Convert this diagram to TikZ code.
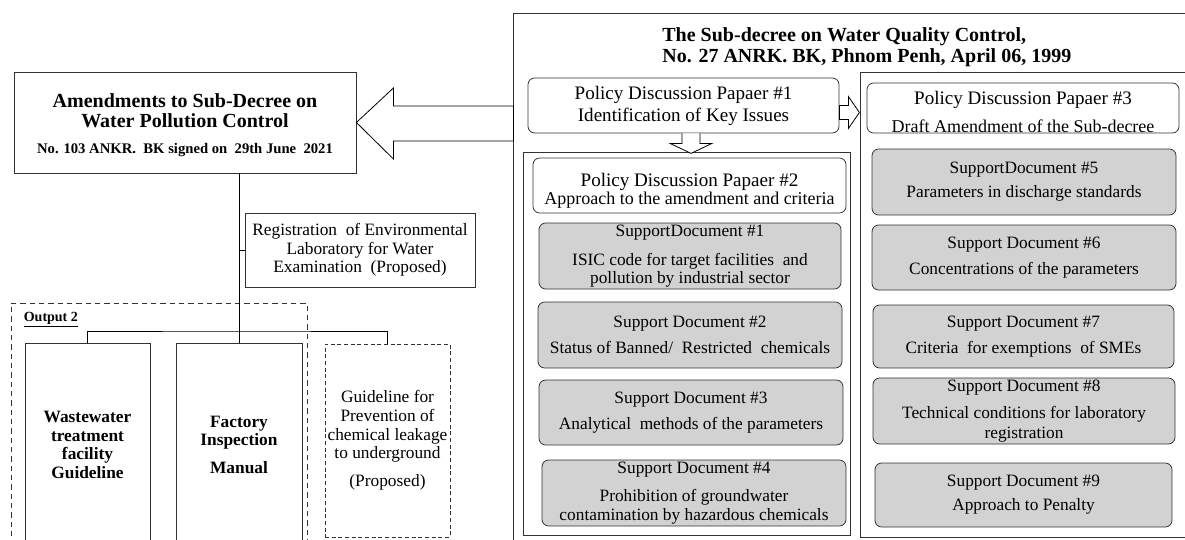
\documentclass[tikz,border=0pt]{standalone}
\usepackage{fontspec}
\setmainfont{Liberation Serif}
\usetikzlibrary{fit}
\tikzset{
  panel/.style={draw=black!80, inner sep=0pt},
  pdp/.style={panel, rounded corners=5pt, fill=white},
  sd/.style={panel, rounded corners=5pt, fill=gray!35},
  txt/.style={align=center, inner sep=0pt, font=\fontsize{13}{14}\selectfont},
  pdptxt/.style={txt, font=\fontsize{14.3}{15.5}\selectfont},
  boldtxt/.style={txt, font=\fontsize{13}{14}\selectfont\bfseries},
}
\def\body{\fontsize{13.5}{14}\selectfont}

\begin{document}
\begin{tikzpicture}[x=0.75pt,y=-0.75pt,line width=0.6pt]
\useasboundingbox (0,0) rectangle (1185,539);
% sub-decree side
\node[panel, fit={(513,13) (1200,550)}] (decree) {};
\node[anchor=west, align=left, inner sep=0pt, font=\fontsize{15}{16}\selectfont\bfseries] (title) at (662,47)
  {The Sub-decree on Water Quality Control,\\ No. 27 ANRK. BK, Phnom Penh, April 06, 1999};
\node[panel, fit={(523,152) (850,535)}] (left) {};
\node[panel, fit={(860,72) (1200,537)}] (right) {};
\node[pdp, fit={(528,78) (839,133)}, label={[pdptxt]center:{Policy Discussion Papaer \#1\\[1pt] Identification of Key Issues}}] (pdp1) {};
\node[pdp, fit={(533,158) (846,213)}, label={[pdptxt,yshift=-4pt]center:{Policy Discussion Papaer \#2\\[-2pt] {\body Approach to the amendment and criteria}}}] (pdp2) {};
\node[sd, fit={(539,223) (841,289)}, label={[txt]center:{SupportDocument \#1\\[8pt] ISIC code for target facilities\enspace and\\[-1pt] pollution by industrial sector}}] (sd1) {};
\node[sd, fit={(538,302) (842,368)}, label={[txt]center:{Support Document \#2\\[6pt] Status of Banned/\enspace Restricted\enspace chemicals}}] (sd2) {};
\node[sd, fit={(539,380) (843,445)}, label={[txt]center:{Support Document \#3\\[6pt] Analytical\enspace methods of the parameters}}] (sd3) {};
\node[sd, fit={(542,460) (846,526)}, label={[txt]center:{Support Document \#4\\[7pt] Prohibition of groundwater\\ contamination by hazardous chemicals}}] (sd4) {};
\node[pdp, fit={(867,83) (1179,133)}, label={[pdptxt,yshift=-3pt]center:{Policy Discussion Papaer \#3\\[5pt] {\body Draft Amendment of the Sub-decree}}}] (pdp3) {};
\node[sd, fit={(872,149) (1176,215)}, label={[txt]center:{SupportDocument \#5\\[4pt] Parameters in discharge standards}}] (sd5) {};
\node[sd, fit={(872,225) (1176,290)}, label={[txt]center:{Support Document \#6\\[5pt] Concentrations of the parameters}}] (sd6) {};
\node[sd, fit={(873,305) (1174,368)}, label={[txt]center:{Support Document \#7\\[5pt] Criteria\enspace for exemptions\enspace of SMEs}}] (sd7) {};
\node[sd, fit={(873,378) (1175,444)}, label={[txt]center:{Support Document \#8\\[6pt] Technical conditions for laboratory\\[1pt] registration}}] (sd8) {};
\node[sd, fit={(875,463) (1172,527)}, label={[txt]center:{Support Document \#9\\[4pt] Approach to Penalty}}] (sd9) {};
\draw[fill=white] (pdp1.east) -- ++(9,0) -- ++(0,-9) -- ++(11,16) -- ++(-11,16) -- ++(0,-9) -- ++(-9,0) -- cycle;
\draw[fill=white] (pdp1.south) ++(-1.5,0) -- ++(0,10) -- ++(-12,0) -- ++(21,10) -- ++(21,-10) -- ++(-12,0) -- ++(0,-10);
% amendment side
\node[panel, fit={(14,72) (356,173)}, label={[txt,yshift=-2pt,font=\fontsize{15}{15}\selectfont\bfseries]center:{Amendments to Sub-Decree on\\ Water Pollution Control\\[5pt] {\fontsize{11}{13}\selectfont No. 103 ANKR.\enspace BK signed on\enspace 29th June\enspace 2021}}}] (amend) {};
\draw[fill=white] (amend.east) -- ++(37,-34.5) -- ++(0,18) -- ++(120,0) -- ++(0,35) -- ++(-120,0) -- ++(0,18) -- cycle;
\node[panel, fit={(245,213) (475,287)}, label={[txt]center:{Registration\enspace of Environmental\\ Laboratory for Water\\ Examination\enspace (Proposed)}}] (reg) {};
\node[panel, dash pattern=on 4pt off 3pt, fit={(11,303) (307,547)}] (out2) {};
\node[anchor=west, font=\fontsize{10.5}{12}\selectfont\bfseries] (out2lbl) at (19,320) {\underline{Output 2}};
\node[panel, fit={(25,343) (150,547)}, label={[boldtxt]center:{Wastewater\\ treatment\\ facility\\ Guideline}}] (ww) {};
\node[panel, fit={(176,343) (302,547)}, label={[boldtxt]center:{Factory\\ Inspection\\[7pt] Manual}}] (fact) {};
\node[panel, densely dashed, fit={(325,344) (450,537)}, label={[txt]center:{Guideline for\\ Prevention of\\ chemical leakage\\ to underground\\[7pt] (Proposed)}}] (guide) {};
\draw (amend.south -| fact.north) -- (fact.north);
\draw (reg.west) -- (reg.west -| fact.north);
\coordinate (br) at (236,331);
\draw (ww.north) |- (br) -| (guide.north);
\end{tikzpicture}
\end{document}
